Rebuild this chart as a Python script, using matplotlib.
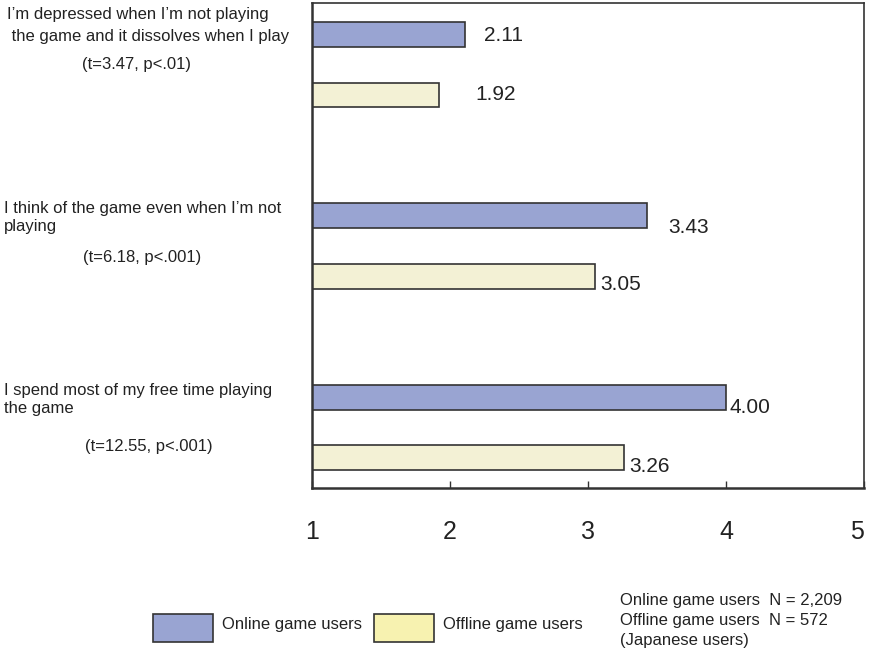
import matplotlib
matplotlib.use("Agg")
from matplotlib import pyplot as plt
from matplotlib.patches import Rectangle
import numpy as np

plt.rcParams['font.family'] = ['Liberation Sans', 'DejaVu Sans']

# mean scores per statement (1-5 scale)
online = [2.11, 3.43, 4.00]
offline = [1.92, 3.05, 3.26]
statements = [
    ["I\u2019m depressed when I\u2019m not playing",
     " the game and it dissolves when I play"],
    ["I think of the game even when I\u2019m not", "playing"],
    ["I spend most of my free time playing", "the game"],
]
stats = ["(t=3.47, p<.01)", "(t=6.18, p<.001)", "(t=12.55, p<.001)"]
ticks = [1, 2, 3, 4, 5]
notes = ["Online game users  N = 2,209",
         "Offline game users  N = 572",
         "(Japanese users)"]

c_on = "#99a4d2"
c_off = "#f3f1d5"
c_off_leg = "#f7f2b0"
edge = "#333333"
txt = "#222222"

W, H = 869, 650
fig = plt.figure(figsize=(W / 100, H / 100), dpi=100)
ax = fig.add_axes([312 / W, 1 - 488 / H, 552 / W, 485 / H])


def fx(px):
    return px / W


def fy(py):
    return 1 - py / H


# group i: online bar at 3i, offline bar at 3i+1
ypos_on = np.arange(3) * 3
ypos_off = ypos_on + 1
ax.barh(ypos_on, np.array(online) - 1, left=1, height=0.41,
        color=c_on, edgecolor=edge, linewidth=1.2)
ax.barh(ypos_off, np.array(offline) - 1, left=1, height=0.41,
        color=c_off, edgecolor=edge, linewidth=1.2)

ax.set_xlim(1, 5)
ax.set_ylim(7.5, -0.52)
ax.set_yticks([])
ax.set_xticks(ticks)
ax.set_xticklabels([str(t) for t in ticks], fontsize=18, color=txt)
ax.get_xticklabels()[-1].set_horizontalalignment('right')
ax.tick_params(axis='x', direction='in', length=5, width=1, color=edge, pad=23)
for s in ax.spines.values():
    s.set_color(edge)
    s.set_linewidth(1.2)
ax.spines['bottom'].set_linewidth(1.8)
ax.spines['left'].set_linewidth(1.8)

# value labels, nudged (points) the way they sit next to each bar end
on_off = [(19, 1), (21, 12), (4, 10)]
off_off = [(36, 0), (5, 8), (5, 9)]
for i in range(3):
    ax.annotate(f"{online[i]:.2f}", (online[i], ypos_on[i]),
                xytext=(on_off[i][0] * 0.72, -on_off[i][1] * 0.72),
                textcoords='offset points', va='center', ha='left',
                fontsize=15, color=txt)
    ax.annotate(f"{offline[i]:.2f}", (offline[i], ypos_off[i]),
                xytext=(off_off[i][0] * 0.72, -off_off[i][1] * 0.72),
                textcoords='offset points', va='center', ha='left',
                fontsize=15, color=txt)

# statement text on the left
line_y = [(14, 37, 65), (209, 227, 257), (390, 408, 447)]
line_x = [(7, 7), (4, 4), (4, 4)]
stat_x = [136, 142, 149]
for i in range(3):
    y1, y2, y3 = line_y[i]
    fig.text(fx(line_x[i][0]), fy(y1), statements[i][0], fontsize=12,
             va='center', ha='left', color=txt)
    fig.text(fx(line_x[i][1]), fy(y2), statements[i][1], fontsize=12,
             va='center', ha='left', color=txt)
    fig.text(fx(stat_x[i]), fy(y3), stats[i], fontsize=12,
             va='center', ha='center', color=txt)

# legend drawn by hand
for x0, col, label in [(153, c_on, "Online game users"),
                       (374, c_off_leg, "Offline game users")]:
    fig.patches.append(Rectangle((fx(x0), fy(642)), fx(60), 28 / H,
                                 transform=fig.transFigure, facecolor=col,
                                 edgecolor=edge, linewidth=1.2))
    fig.text(fx(x0 + 69), fy(624), label, fontsize=12, va='center',
             ha='left', color=txt)

for j, n in enumerate(notes):
    fig.text(fx(620), fy(601 + j * 19.5), n, fontsize=12, va='center',
             ha='left', color=txt)

fig.savefig("out.png", dpi=100)
